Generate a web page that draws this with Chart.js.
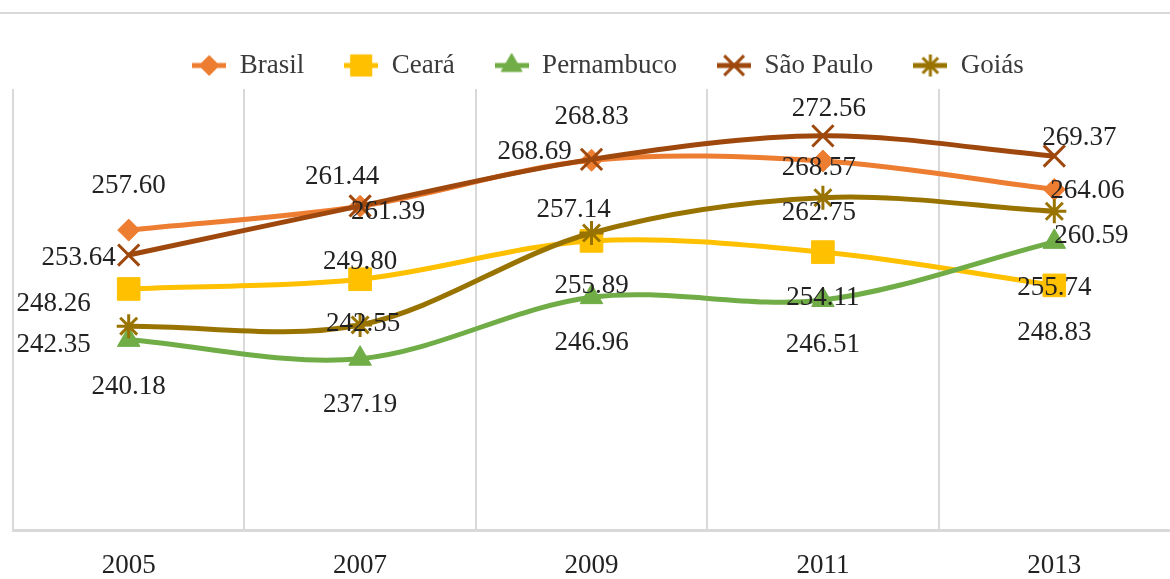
<!DOCTYPE html>
<html>
<head>
<meta charset="utf-8">
<script src="https://cdn.jsdelivr.net/npm/chart.js@4.4.1/dist/chart.umd.min.js"></script>
<style>
  html, body { margin: 0; padding: 0; background: #fff; }
  #wrap { width: 1170px; height: 579px; position: relative; }
</style>
</head>
<body>
<div id="wrap"><canvas id="chart"></canvas></div>
<script>
const years = ["2005", "2007", "2009", "2011", "2013"];
const brasil = [257.60, 261.39, 268.69, 268.57, 264.06];
const ceara = [248.26, 249.80, 255.89, 254.11, 248.83];
const pernambuco = [240.18, 237.19, 246.96, 246.51, 255.74];
const saoPaulo = [253.64, 261.44, 268.83, 272.56, 269.37];
const goias = [242.35, 242.55, 257.14, 262.75, 260.59];

// where each value label sits relative to its marker, in px (dx, dy)
const labelOffsets = {
  "Brasil": [[0, -44], [28, 6], [-57, -8], [-4, 7], [33, 1]],
  "Ceará": [[-75, 15], [0, -17], [0, 45], [0, 46], [0, 48]],
  "Pernambuco": [[0, 47], [0, 46], [0, 46], [0, 45], [0, 46]],
  "São Paulo": [[-50, 3], [-18, -29], [0, -42], [6, -27], [25, -18]],
  "Goiás": [[-75, 19], [3, -1], [-18, -23], [-4, 15], [37, 25]]
};

const FONT = "Liberation Serif";

// series look: colour, marker style, marker size, marker outline width
const series = [
  { label: "Brasil", data: brasil, color: "#ED7D31", style: "rectRot", radius: 11, bw: 1 },
  { label: "Ceará", data: ceara, color: "#FFC000", style: "rect", radius: 16, bw: 1 },
  { label: "Pernambuco", data: pernambuco, color: "#70AD47", style: "triangle", radius: 13, bw: 1 },
  { label: "São Paulo", data: saoPaulo, color: "#9E480E", style: "crossRot", radius: 15, bw: 3 },
  { label: "Goiás", data: goias, color: "#997300", style: "star", radius: 12, bw: 3 }
];

// legend icons: a short line with the marker on it, like the spreadsheet legend
function makeIcon(s) {
  const c = document.createElement("canvas");
  c.width = 34;
  c.height = 28;
  const g = c.getContext("2d");
  g.strokeStyle = s.color;
  g.fillStyle = s.color;
  g.lineWidth = 5;
  g.beginPath();
  g.moveTo(0, 14);
  g.lineTo(34, 14);
  g.stroke();
  g.lineWidth = s.bw;
  Chart.helpers.drawPoint(g, { pointStyle: s.style, radius: s.radius - 1, borderWidth: s.bw, rotation: 0 }, 17, 14);
  return c;
}
const legendIcons = series.map(makeIcon);

const topRule = {
  id: "topRule",
  beforeDraw(chart) {
    const ctx = chart.ctx;
    ctx.save();
    ctx.strokeStyle = "#d9d9d9";
    ctx.lineWidth = 2;
    ctx.beginPath();
    ctx.moveTo(0, 13);
    ctx.lineTo(chart.width, 13);
    ctx.stroke();
    ctx.restore();
  },
  afterLayout(chart) {
    // nudge legend to the right, the original is not centred on the canvas
    chart.legend.left += 33;
  }
};

const valueLabels = {
  id: "valueLabels",
  afterDatasetsDraw(chart) {
    const ctx = chart.ctx;
    ctx.save();
    ctx.font = "27px '" + FONT + "'";
    ctx.fillStyle = "#222";
    ctx.textAlign = "center";
    ctx.textBaseline = "middle";
    chart.data.datasets.forEach((ds, i) => {
      const meta = chart.getDatasetMeta(i);
      const offs = labelOffsets[ds.label];
      meta.data.forEach((pt, j) => {
        ctx.fillText(ds.data[j].toFixed(2), pt.x + offs[j][0], pt.y + offs[j][1]);
      });
    });
    ctx.restore();
  }
};

new Chart(document.getElementById("chart"), {
  type: "line",
  data: {
    labels: years,
    datasets: series.map((s, i) => ({
      label: s.label,
      data: s.data,
      borderColor: s.color,
      backgroundColor: s.color,
      borderWidth: 5,
      pointStyle: s.style,
      pointRadius: s.radius,
      pointBorderWidth: s.bw,
      pointBackgroundColor: s.color,
      pointBorderColor: s.color,
      tension: 0.33,
      fill: false,
      clip: false,
      order: series.length - i
    }))
  },
  options: {
    responsive: true,
    maintainAspectRatio: false,
    animation: false,
    layout: { autoPadding: false, padding: { top: 12, left: 13, right: 0, bottom: 0 } },
    plugins: {
      tooltip: { enabled: false },
      legend: {
        position: "top",
        labels: {
          usePointStyle: true,
          pointStyleWidth: 34,
          padding: 40,
          color: "#3a3a3a",
          font: { family: FONT, size: 27 },
          sort: (a, b) => a.datasetIndex - b.datasetIndex,
          generateLabels(chart) {
            const items = Chart.defaults.plugins.legend.labels.generateLabels(chart);
            items.forEach((it) => { it.pointStyle = legendIcons[it.datasetIndex]; });
            return items;
          }
        }
      }
    },
    scales: {
      x: {
        offset: true,
        grid: {
          offset: true,
          lineWidth: 2,
          drawTicks: false,
          // the closing line on the right edge gets the scale context, not a tick one: hide it
          color: (ctx) => (ctx.type === "tick" ? "#d9d9d9" : "rgba(0,0,0,0)")
        },
        border: { color: "#d9d9d9", width: 3 },
        ticks: { color: "#222", font: { family: FONT, size: 27 }, padding: 20 },
        afterFit(scale) { scale.height = 49; }
      },
      y: { display: false, min: 210, max: 280 }
    }
  },
  plugins: [topRule, valueLabels]
});
</script>
</body>
</html>
